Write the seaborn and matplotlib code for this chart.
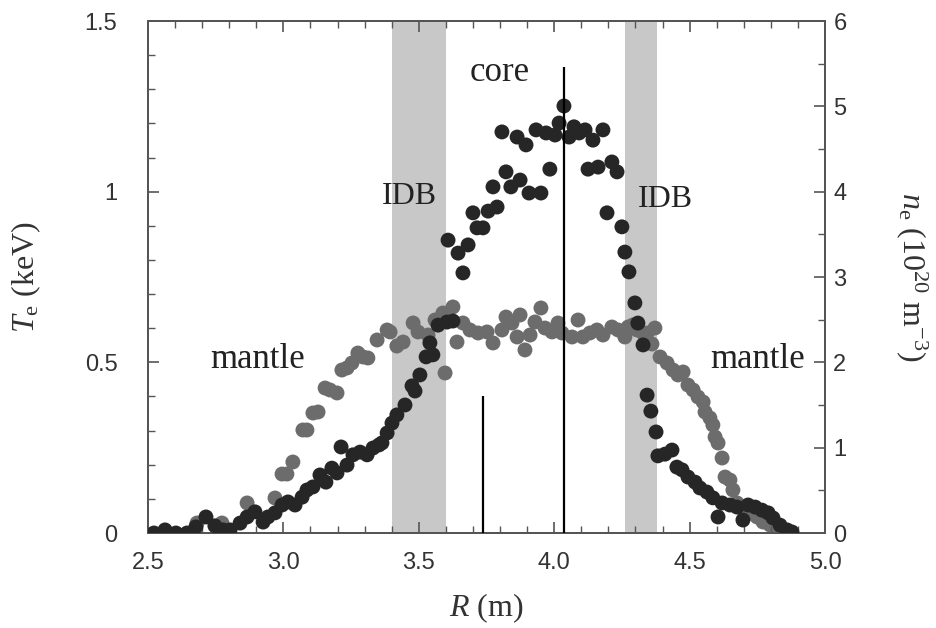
import numpy as np
import pandas as pd
import matplotlib
matplotlib.use("Agg")
import matplotlib.pyplot as plt
from matplotlib.ticker import MultipleLocator, FixedLocator
import seaborn as sns

# ---- data ----
# electron temperature (dark points), keV, left axis
te_R = [2.522, 2.563, 2.603, 2.644, 2.677, 2.714, 2.747, 2.777, 2.803, 2.840,
        2.866, 2.895, 2.925, 2.943, 2.969, 2.995, 3.017, 3.043, 3.069, 3.087,
        3.109, 3.135, 3.157, 3.179, 3.198, 3.213, 3.235, 3.257, 3.283, 3.309,
        3.331, 3.353, 3.364, 3.383, 3.401, 3.419, 3.449, 3.475, 3.486, 3.504,
        3.527, 3.552, 3.541, 3.571, 3.604, 3.626, 3.608, 3.645, 3.663, 3.682,
        3.700, 3.715, 3.737, 3.756, 3.774, 3.789, 3.807, 3.822, 3.840, 3.863,
        3.874, 3.896, 3.907, 3.933, 3.951, 3.970, 3.984, 4.003, 4.018, 4.036,
        4.055, 4.073, 4.092, 4.114, 4.125, 4.143, 4.162, 4.180, 4.195, 4.213,
        4.232, 4.250, 4.261, 4.276, 4.298, 4.309, 4.328, 4.343, 4.357, 4.376,
        4.383, 4.409, 4.435, 4.453, 4.472, 4.494, 4.520, 4.538, 4.564, 4.586,
        4.605, 4.620, 4.649, 4.675, 4.697, 4.716, 4.742, 4.767, 4.790, 4.808,
        4.834, 4.860, 4.878]
te_val = [0.000, 0.009, 0.000, 0.000, 0.018, 0.047, 0.021, 0.009, 0.009, 0.029,
          0.047, 0.062, 0.032, 0.047, 0.059, 0.082, 0.091, 0.082, 0.105, 0.126,
          0.135, 0.170, 0.149, 0.190, 0.176, 0.252, 0.199, 0.229, 0.237, 0.229,
          0.249, 0.258, 0.264, 0.293, 0.322, 0.346, 0.375, 0.431, 0.416, 0.463,
          0.516, 0.522, 0.557, 0.609, 0.618, 0.621, 0.858, 0.820, 0.762, 0.844,
          0.938, 0.894, 0.894, 0.943, 1.014, 0.955, 1.175, 1.058, 1.014, 1.160,
          1.034, 1.137, 0.996, 1.181, 0.996, 1.172, 1.066, 1.166, 1.201, 1.251,
          1.160, 1.190, 1.172, 1.181, 1.066, 1.151, 1.072, 1.181, 0.938, 1.087,
          1.058, 0.897, 0.823, 0.765, 0.674, 0.615, 0.551, 0.404, 0.357, 0.296,
          0.226, 0.231, 0.243, 0.193, 0.185, 0.164, 0.149, 0.132, 0.120, 0.103,
          0.047, 0.088, 0.082, 0.076, 0.038, 0.082, 0.076, 0.067, 0.059, 0.044,
          0.023, 0.009, 0.003]

# electron density (grey points), 10^20 m^-3, right axis
ne_R = [2.681, 2.773, 2.866, 2.969, 2.995, 3.013, 3.035, 3.072, 3.087, 3.109,
        3.128, 3.154, 3.172, 3.198, 3.216, 3.235, 3.253, 3.275, 3.294, 3.312,
        3.346, 3.383, 3.394, 3.419, 3.442, 3.479, 3.497, 3.534, 3.560, 3.589,
        3.597, 3.626, 3.641, 3.663, 3.689, 3.719, 3.752, 3.774, 3.807, 3.822,
        3.844, 3.863, 3.874, 3.892, 3.911, 3.929, 3.951, 3.966, 3.992, 4.014,
        4.029, 4.066, 4.088, 4.106, 4.132, 4.158, 4.180, 4.213, 4.236, 4.261,
        4.273, 4.291, 4.306, 4.328, 4.343, 4.361, 4.372, 4.391, 4.417, 4.439,
        4.457, 4.476, 4.494, 4.513, 4.531, 4.550, 4.557, 4.575, 4.586, 4.594,
        4.605, 4.620, 4.631, 4.649, 4.660, 4.675, 4.693, 4.723, 4.749, 4.771,
        4.797, 4.823]
ne_val = [0.117, 0.117, 0.352, 0.410, 0.691, 0.691, 0.832, 1.207, 1.207, 1.406,
          1.418, 1.699, 1.676, 1.641, 1.910, 1.934, 1.992, 2.109, 2.063, 2.051,
          2.262, 2.379, 2.356, 2.191, 2.238, 2.461, 2.356, 2.320, 2.496, 2.578,
          1.875, 2.649, 2.238, 2.461, 2.379, 2.344, 2.356, 2.227, 2.379, 2.531,
          2.461, 2.297, 2.555, 2.145, 2.320, 2.473, 2.637, 2.402, 2.356, 2.461,
          2.344, 2.297, 2.496, 2.297, 2.344, 2.379, 2.320, 2.414, 2.379, 2.297,
          2.414, 2.438, 2.379, 2.344, 2.344, 2.215, 2.402, 2.063, 1.992, 1.910,
          1.852, 1.887, 1.734, 1.676, 1.594, 1.535, 1.418, 1.348, 1.266, 1.125,
          1.055, 0.879, 0.656, 0.621, 0.504, 0.352, 0.293, 0.234, 0.188, 0.129,
          0.094, 0.059]

# shaded IDB bands (R ranges)
band_lo = [3.40, 4.26]
band_hi = [3.60, 4.38]

# vertical marker lines: R position, top (keV)
vline_R = [4.036, 3.737]
vline_top = [1.365, 0.40]

# annotations
ann_text = ["core", "IDB", "IDB", "mantle", "mantle"]
ann_R = [3.80, 3.467, 4.409, 2.906, 4.753]
ann_y = [1.35, 0.985, 0.976, 0.507, 0.507]
ann_size = [25, 23, 23, 25, 25]

x_ticks = [2.5, 3.0, 3.5, 4.0, 4.5, 5.0]
x_labels = ["2.5", "3.0", "3.5", "4.0", "4.5", "5.0"]
yl_ticks = [0, 0.5, 1.0, 1.5]
yl_labels = ["0", "0.5", "1", "1.5"]
yr_ticks = [0, 1, 2, 3, 4, 5, 6]
yr_labels = ["0", "1", "2", "3", "4", "5", "6"]

te_df = pd.DataFrame({"R": te_R, "Te": te_val})
ne_df = pd.DataFrame({"R": ne_R, "ne": ne_val})

# ---- styling ----
sns.set_style("white")
plt.rcParams["font.family"] = ["Liberation Sans", "DejaVu Sans"]
plt.rcParams["mathtext.fontset"] = "custom"
plt.rcParams["mathtext.rm"] = "Liberation Serif"
plt.rcParams["mathtext.it"] = "Liberation Serif:italic"

spine_col = "#555555"
tick_col = "#333333"
dark_col = "#262626"
grey_col = "#6c6c6c"
band_col = "#c8c8c8"

fig = plt.figure(figsize=(9.36, 6.28), dpi=100)
ax = fig.add_axes([148 / 936, 1 - 533 / 628, (825 - 148) / 936, (533 - 21) / 628])
ax2 = ax.twinx()
# grey series + bands behind, dark series in front
ax.set_zorder(ax2.get_zorder() + 1)
ax.patch.set_visible(False)

for lo, hi in zip(band_lo, band_hi):
    ax2.axvspan(lo, hi, color=band_col, lw=0, zorder=0)

sns.scatterplot(data=ne_df, x="R", y="ne", ax=ax2, color=grey_col, s=115,
                edgecolor="none", linewidth=0, zorder=3, legend=False)
sns.scatterplot(data=te_df, x="R", y="Te", ax=ax, color=dark_col, s=115,
                edgecolor="none", linewidth=0, zorder=4, legend=False)

ax.vlines(vline_R, 0, vline_top, colors="black", linewidth=1.6, zorder=5)

for t, r, yv, fs in zip(ann_text, ann_R, ann_y, ann_size):
    ax.text(r, yv, t, ha="center", va="center", fontsize=fs,
            family=["Liberation Serif", "DejaVu Serif"], color="#222222", zorder=6)

ax.set_xlim(2.5, 5.0)
ax.set_ylim(0, 1.5)
ax2.set_ylim(0, 6)

ax.xaxis.set_major_locator(FixedLocator(x_ticks))
ax.set_xticklabels(x_labels)
ax.xaxis.set_minor_locator(MultipleLocator(0.1))
ax.yaxis.set_major_locator(FixedLocator(yl_ticks))
ax.set_yticklabels(yl_labels)
ax.yaxis.set_minor_locator(MultipleLocator(0.1))
ax2.yaxis.set_major_locator(FixedLocator(yr_ticks))
ax2.set_yticklabels(yr_labels)
ax2.yaxis.set_minor_locator(MultipleLocator(0.5))

for a in (ax, ax2):
    for sp in a.spines.values():
        sp.set_color(spine_col)
        sp.set_linewidth(1.4)

ax.tick_params(axis="x", which="both", direction="in", top=True, bottom=True,
               colors=spine_col, labelcolor=tick_col, labelsize=17, pad=14)
ax.tick_params(axis="x", which="major", length=8, width=1.2)
ax.tick_params(axis="x", which="minor", length=5, width=1.0)
ax.tick_params(axis="y", which="both", direction="in", left=True, right=False,
               colors=spine_col, labelcolor=tick_col, labelsize=17, pad=22)
ax.tick_params(axis="y", which="major", length=8, width=1.2)
ax.tick_params(axis="y", which="minor", length=5, width=1.0)
ax2.tick_params(axis="y", which="both", direction="in", right=True, left=False,
                colors=spine_col, labelcolor=tick_col, labelsize=17, pad=6)
ax2.tick_params(axis="y", which="major", length=8, width=1.2)
ax2.tick_params(axis="y", which="minor", length=5, width=1.0)
for lab in ax.get_yticklabels():
    lab.set_horizontalalignment("right")

ax.set_xlabel(r"$R$ (m)", fontsize=23, family=["Liberation Serif", "DejaVu Serif"],
              color="#333333", labelpad=12)
ax.set_ylabel(r"$T_{\rm e}$ (keV)", fontsize=23, family=["Liberation Serif", "DejaVu Serif"],
              color="#333333", labelpad=30)
ax2.set_ylabel(r"$n_{\rm e}$ (10$^{20}$ m$^{-3}$)", fontsize=23,
               family=["Liberation Serif", "DejaVu Serif"], color="#333333",
               rotation=270, labelpad=60)

fig.savefig("out.png", dpi=100, facecolor="white")
